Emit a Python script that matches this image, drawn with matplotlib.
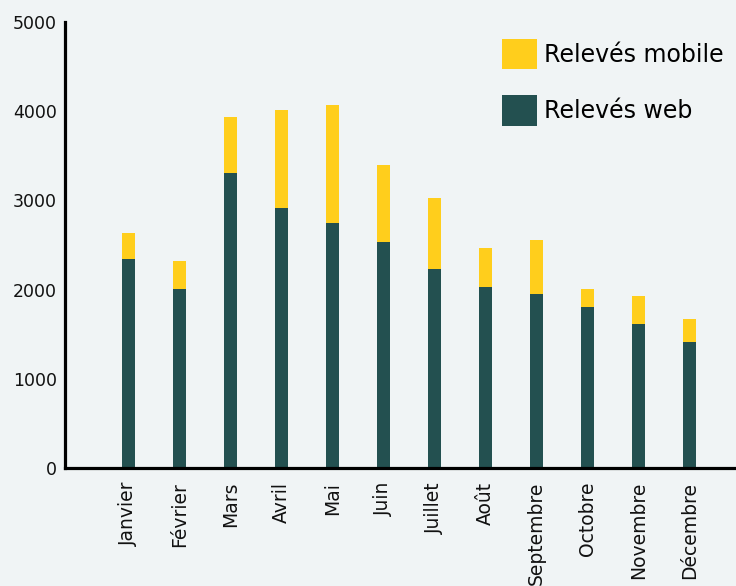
import matplotlib
matplotlib.use("Agg")
import matplotlib.pyplot as plt
import numpy as np

months = ["Janvier", "Février", "Mars", "Avril", "Mai", "Juin", "Juillet",
          "Août", "Septembre", "Octobre", "Novembre", "Décembre"]
web = [2348, 2011, 3303, 2910, 2742, 2539, 2236, 2034, 1955, 1809, 1618, 1416]
total = [2629, 2326, 3933, 4011, 4067, 3393, 3022, 2461, 2551, 2011, 1933, 1674]
mobile = [t - w for t, w in zip(total, web)]
yticks = [0, 1000, 2000, 3000, 4000, 5000]

bg = "#F0F4F5"
c_web = "#235050"
c_mob = "#FFCE1C"

fig = plt.figure(figsize=(7.36, 5.86), dpi=100, facecolor=bg)
W, H = 736, 586
ax = fig.add_axes([65 / W, 1 - 468 / H, 1 - 65 / W, (468 - 22) / H])
ax.set_facecolor(bg)

x = np.arange(len(months))
bw = 0.255
b1 = ax.bar(x, web, bw, color=c_web, label="Relevés web", zorder=2)
b2 = ax.bar(x, mobile, bw, bottom=web, color=c_mob, label="Relevés mobile", zorder=2)

ax.set_xlim((65 - 128.5) / 51, (736 - 128.5) / 51)
ax.set_ylim(0, 5000)
ax.set_yticks(yticks)
ax.set_yticklabels([str(v) for v in yticks])
ax.set_xticks(x)
ax.set_xticklabels(months, rotation=90, va="top", ha="center")
ax.tick_params(axis="x", length=0, pad=10, labelsize=13.5, colors="#111111")
ax.tick_params(axis="y", length=0, pad=6, labelsize=12.5, colors="#111111")

for s in ["top", "right"]:
    ax.spines[s].set_visible(False)
for s in ["left", "bottom"]:
    ax.spines[s].set_linewidth(2.3)
    ax.spines[s].set_color("#000000")
    ax.spines[s].set_zorder(3)

fs = 17
leg = fig.legend([b2, b1], ["Relevés mobile", "Relevés web"],
                 loc="upper left", bbox_to_anchor=(502 / W, 1 - 39 / H),
                 frameon=False, fontsize=fs, handlelength=1.5, handleheight=1.58,
                 handletextpad=0.3, labelspacing=1.12, borderpad=0, borderaxespad=0)

fig.savefig("out.png", dpi=100, facecolor=bg)
